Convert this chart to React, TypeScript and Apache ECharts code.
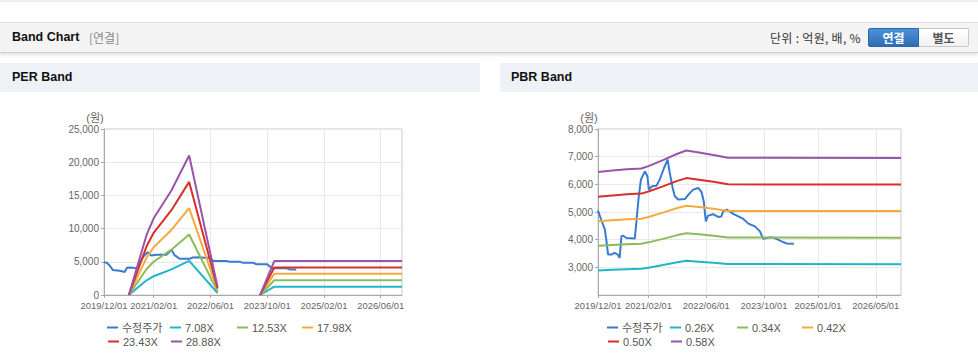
import React, { useEffect, useRef } from "react";
import * as echarts from "echarts";

// ---------- data ----------
const perTickLabels = ["2019/12/01", "2021/02/01", "2022/06/01", "2023/10/01", "2025/02/01", "2026/06/01"];
const pbrTickLabels = ["2019/12/01", "2021/02/01", "2022/06/01", "2023/10/01", "2025/01/01", "2026/05/01"];

// month index 0 = 2019/12
const perPrice: [number, number][] = [
  [0, 4950], [0.8, 4850], [1.6, 4450], [2.5, 3750], [4.4, 3650], [5.3, 3550], [5.8, 3450],
  [6.5, 4100], [7.5, 4150], [8.6, 4050], [9.3, 4000], [10.2, 5000], [11.3, 5900], [12.3, 6450],
  [13.3, 5950], [14.8, 6050], [17.6, 6050], [19.0, 6800], [19.9, 6000], [21.3, 5450], [24.1, 5450],
  [25.0, 5650], [27.0, 5700], [28.0, 5600], [30.0, 5600], [30.8, 5120], [34.5, 5120], [35.5, 5020],
  [38.2, 5020], [39.0, 4870], [42.0, 4870], [43.0, 4620], [46.0, 4620], [46.8, 4270], [47.6, 4020],
  [51.5, 4020], [52.3, 3850], [54.2, 3850],
];
const perBandMonths = [7, 12, 14, 19, 24, 32, 38, 44, 48, 84];
const per708 = [0, 2216, 2832, 3859, 5147, 304, null, 0, 1253, 1253];
const per1253 = [0, 3922, 5012, 6829, 9109, 539, null, 0, 2218, 2218];
const per1798 = [0, 5628, 7192, 9799, 13072, 773, null, 0, 3182, 3182];
const per2343 = [0, 7334, 9372, 12769, 17034, 1007, null, 0, 4147, 4147];
const per2888 = [0, 9039, 11552, 15740, 21000, 1242, null, 0, 5112, 5112];

const pbrPrice: [number, number][] = [
  [0, 5050], [0.9, 4720], [1.9, 4360], [2.3, 4000], [2.8, 3460], [3.7, 3460], [4.6, 3520],
  [5.5, 3460], [6.0, 3340], [6.5, 4120], [6.9, 4150], [7.9, 4060], [10.2, 4040], [10.7, 4720],
  [11.3, 5560], [11.9, 6170], [13.0, 6470], [13.7, 6290], [14.1, 5810], [15.0, 5930], [16.2, 5950],
  [17.1, 6170], [18.3, 6590], [19.3, 6890], [19.9, 6410], [20.7, 5870], [21.3, 5570], [22.2, 5450],
  [24.1, 5470], [25.5, 5690], [26.4, 5810], [27.8, 5870], [28.7, 5720], [29.3, 5400], [29.9, 4660],
  [30.5, 4870], [31.9, 4920], [33.3, 4820], [34.2, 4840], [34.7, 5020], [35.7, 5090], [37.5, 4930],
  [38.9, 4840], [40.3, 4750], [41.7, 4580], [43.5, 4480], [44.9, 4300], [45.8, 4030], [46.8, 4060],
  [48.2, 4090], [49.6, 4020], [50.9, 3940], [52.3, 3860], [54.3, 3850],
];
const pbrBandMonths = [0, 4, 8, 12, 14, 18, 22, 24.5, 28, 32, 36, 84];
const pbr026 = [2889, 2912, 2933, 2946, 2985, 3081, 3185, 3237, 3206, 3167, 3120, 3115];
const pbr034 = [3777, 3808, 3835, 3852, 3903, 4029, 4165, 4233, 4192, 4141, 4080, 4073];
const pbr042 = [4666, 4704, 4738, 4759, 4822, 4977, 5145, 5229, 5179, 5116, 5040, 5032];
const pbr050 = [5555, 5600, 5640, 5665, 5740, 5925, 6125, 6225, 6165, 6090, 6000, 5990];
const pbr058 = [6444, 6496, 6542, 6571, 6658, 6873, 7105, 7221, 7151, 7064, 6960, 6948];

const perNames = ["수정주가", "7.08X", "12.53X", "17.98X", "23.43X", "28.88X"];
const pbrNames = ["수정주가", "0.26X", "0.34X", "0.42X", "0.50X", "0.58X"];
const colors = ["#3a7ad2", "#20b6c8", "#8dbb57", "#f5aa3c", "#d7302b", "#9a54aa"];

// ---------- helpers ----------
const months: string[] = [];
for (let i = 0; i <= 84; i++) {
  const total = 2019 * 12 + 11 + i;
  const y = Math.floor(total / 12);
  const mo = (total % 12) + 1;
  months.push(`${y}/${mo < 10 ? "0" + mo : mo}/01`);
}
const zip = (xs: number[], ys: (number | null)[]) => xs.map((x, i) => [x, ys[i] == null ? "-" : ys[i]]);

const FONT = "'Liberation Sans', Arial, 'Noto Sans CJK KR', sans-serif";
const fmt = (v: number) => String(v).replace(/\B(?=(\d{3})+(?!\d))/g, ",");

function catAxis(gridIndex: number, ticks: string[]) {
  const f = (_i: number, v: string) => ticks.indexOf(v) >= 0;
  return {
    type: "category",
    gridIndex,
    data: months,
    boundaryGap: false,
    axisLine: { lineStyle: { color: "#aaa" } },
    axisTick: { show: true, interval: f, length: 3, lineStyle: { color: "#aaa" } },
    axisLabel: {
      interval: f, color: "#666", fontSize: 9.4, fontFamily: FONT, margin: 6,
      showMinLabel: true, hideOverlap: false,
    },
    splitLine: { show: true, interval: f, lineStyle: { color: "#e8e8e8" } },
  };
}
function valAxisX(gridIndex: number) {
  return { type: "value", gridIndex, min: 0, max: 84, show: false };
}
function yAxis(gridIndex: number, min: number, max: number, interval: number, hideMin: boolean) {
  return {
    type: "value",
    gridIndex,
    min,
    max,
    interval,
    name: "(원)",
    nameLocation: "end",
    nameGap: 6,
    nameTextStyle: { color: "#666", fontSize: 11, fontFamily: FONT, padding: [0, 18, 0, 0] },
    axisLine: { show: true, lineStyle: { color: "#aaa" } },
    axisTick: { show: true, length: 3, lineStyle: { color: "#aaa" } },
    axisLabel: {
      color: "#666",
      fontSize: 10,
      fontFamily: FONT,
      margin: 5,
      showMinLabel: !hideMin,
      formatter: (v: number) => fmt(v),
    },
    splitLine: { show: true, lineStyle: { color: "#e8e8e8" } },
  };
}
function line(name: string, color: string, xi: number, yi: number, data: any[]) {
  return {
    type: "line",
    name,
    xAxisIndex: xi,
    yAxisIndex: yi,
    data,
    showSymbol: false,
    symbol: "none",
    connectNulls: false,
    itemStyle: { color },
    lineStyle: { color, width: 2 },
    emphasis: { disabled: true },
  };
}
function legendItem(left: number, top: number, name: string) {
  return {
    left,
    top,
    padding: 0,
    orient: "horizontal",
    data: [name],
    icon: "rect",
    itemWidth: 11,
    itemHeight: 2,
    itemGap: 0,
    textStyle: { color: "#555", fontSize: 11, fontFamily: FONT, padding: [0, 0, 0, -1] },
    selectedMode: false,
  };
}
// column x positions and row tops (layout only)
const legendCols = [0, 63, 130, 195];
const legendRows = [322, 336];

function legendsFor(names: string[], x0: number) {
  return names.map((n, i) => {
    const row = i < 4 ? 0 : 1;
    const col = i < 4 ? i : i - 4;
    return legendItem(x0 + legendCols[col] + (row === 1 ? 1 : 0), legendRows[row], n);
  });
}

export default function App() {
  const ref = useRef<HTMLDivElement>(null);
  useEffect(() => {
    if (!ref.current) return;
    const chart = echarts.init(ref.current, null, { renderer: "svg" });
    const perBands = [per708, per1253, per1798, per2343, per2888];
    const pbrBands = [pbr026, pbr034, pbr042, pbr050, pbr058];
    const series: any[] = [];
    series.push(line(perNames[0], colors[0], 1, 0, perPrice));
    perBands.forEach((b, i) => series.push(line(perNames[i + 1], colors[i + 1], 1, 0, zip(perBandMonths, b))));
    series.push(line(pbrNames[0], colors[0], 3, 1, pbrPrice));
    pbrBands.forEach((b, i) => series.push(line(pbrNames[i + 1], colors[i + 1], 3, 1, zip(pbrBandMonths, b))));

    chart.setOption({
      animation: false,
      backgroundColor: "transparent",
      textStyle: { fontFamily: FONT },
      grid: [
        { left: 104, top: 129, width: 298, height: 166, show: true, borderColor: "#ccc", borderWidth: 1 },
        { left: 598, top: 129, width: 303, height: 166, show: true, borderColor: "#ccc", borderWidth: 1 },
      ],
      xAxis: [catAxis(0, perTickLabels), valAxisX(0), catAxis(1, pbrTickLabels), valAxisX(1)],
      yAxis: [yAxis(0, 0, 25000, 5000, false), yAxis(1, 2000, 8000, 1000, true)],
      legend: [...legendsFor(perNames, 107), ...legendsFor(pbrNames, 607)],
      series,
    });
    return () => chart.dispose();
  }, []);

  const abs = (s: React.CSSProperties): React.CSSProperties => ({ position: "absolute", boxSizing: "border-box", ...s });
  return (
    <div style={abs({ left: 0, top: 0, width: 978, height: 362, background: "#fff", overflow: "hidden", fontFamily: FONT })}>
      <div style={abs({ left: 0, top: 0, width: 978, height: 2, background: "#eeeeee" })} />
      <div
        style={abs({
          left: 0, top: 22, width: 978, height: 31, background: "#f4f4f4",
          borderTop: "1px solid #dcdcdc", borderBottom: "1px solid #cfcfcf",
          boxShadow: "0 2px 3px rgba(0,0,0,0.12)",
        })}
      />
      <div style={abs({ left: 12, top: 22, height: 31, lineHeight: "31px", fontSize: 12.5, fontWeight: "bold", color: "#111" })}>Band Chart</div>
      <div style={abs({ left: 89, top: 22, height: 31, lineHeight: "31px", fontSize: 12, color: "#888", fontFamily: "'Noto Sans CJK KR', sans-serif" })}>[연결]</div>
      <div style={abs({ left: 770, top: 22, height: 31, lineHeight: "31px", fontSize: 12, color: "#333", fontFamily: "'Noto Sans CJK KR', sans-serif", letterSpacing: 0.3 })}>단위 : 억원, 배, %</div>
      <div
        style={abs({
          left: 868, top: 28, width: 51, height: 19, lineHeight: "17px", textAlign: "center",
          background: "linear-gradient(#4c92d8, #2e6db3)", border: "1px solid #2c66a6", borderRadius: "2px 0 0 2px",
          color: "#fff", fontWeight: "bold", fontSize: 12, fontFamily: "'Noto Sans CJK KR', sans-serif",
        })}
      >
        연결
      </div>
      <div
        style={abs({
          left: 919, top: 28, width: 50, height: 19, lineHeight: "17px", textAlign: "center",
          background: "linear-gradient(#ffffff, #f1f1f1)", border: "1px solid #c8c8c8", borderLeft: "none", borderRadius: "0 2px 2px 0",
          color: "#555", fontWeight: "bold", fontSize: 12, fontFamily: "'Noto Sans CJK KR', sans-serif",
        })}
      >
        별도
      </div>
      <div style={abs({ left: 0, top: 63, width: 480, height: 29, background: "#eef2f7" })} />
      <div style={abs({ left: 12, top: 63, height: 29, lineHeight: "29px", fontSize: 12.5, fontWeight: "bold", color: "#111" })}>PER Band</div>
      <div style={abs({ left: 500, top: 63, width: 478, height: 29, background: "#eef2f7" })} />
      <div style={abs({ left: 511, top: 63, height: 29, lineHeight: "29px", fontSize: 12.5, fontWeight: "bold", color: "#111" })}>PBR Band</div>
      <div ref={ref} style={abs({ left: 0, top: 0, width: 978, height: 362 })} />
    </div>
  );
}
